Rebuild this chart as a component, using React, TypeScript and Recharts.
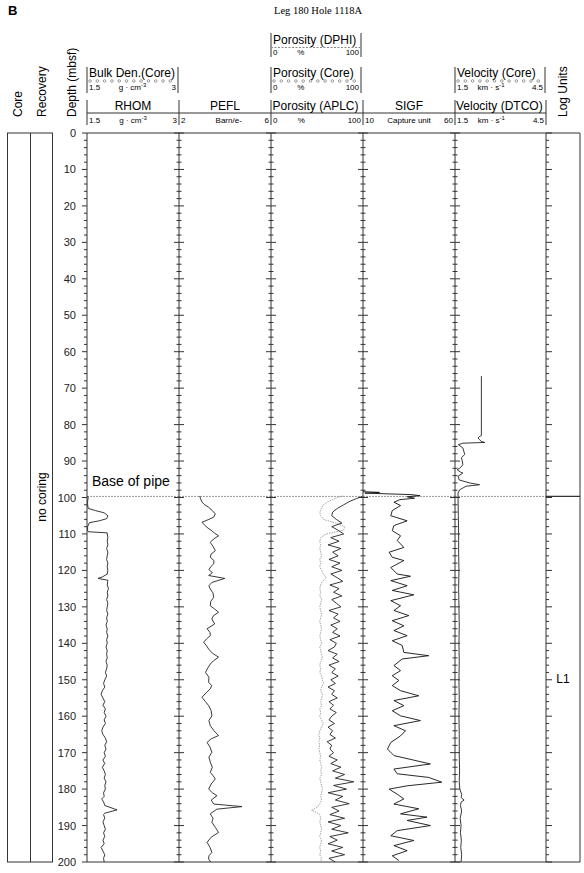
import React from "react";
import { ScatterChart, Scatter, XAxis, YAxis, ReferenceLine, ReferenceArea } from "recharts";

const PAGE_W = 584;
const PAGE_H = 873;
const PLOT_TOP = 133;
const PLOT_BOTTOM = 862;

// depth axis
const depthLabels = [0, 10, 20, 30, 40, 50, 60, 70, 80, 90, 100, 110, 120, 130, 140, 150, 160, 170, 180, 190, 200];
const depthTicks = depthLabels.flatMap((d) => (d < 200 ? [d, d + 2, d + 4, d + 6, d + 8] : [d]));
const basePipeDepth = 99.7;

// [depth (mbsf), value]
const rhom: [number, number][] = [
  [99.6, 1.51], [100, 1.52], [101, 1.51], [102, 1.51], [103, 1.52], [103.6, 1.64], [104.2, 1.78], [105, 1.84],
  [105.8, 1.82], [106.4, 1.7], [106.9, 1.54], [108, 1.51], [109, 1.51], [109.4, 1.52], [109.7, 1.83], [110, 1.83],
  [111, 1.84], [112, 1.83], [113, 1.84], [114, 1.82], [115, 1.84], [116, 1.83], [117, 1.82], [118, 1.84],
  [119, 1.83], [120, 1.84], [121, 1.83], [121.8, 1.75], [122.2, 1.68], [122.7, 1.84], [124, 1.83], [125, 1.85],
  [126, 1.83], [127, 1.84], [128, 1.82], [129, 1.84], [130, 1.83], [131, 1.82], [132, 1.84], [133, 1.82],
  [134, 1.83], [135, 1.81], [136, 1.83], [137, 1.82], [138, 1.84], [139, 1.82], [140, 1.83], [141, 1.81],
  [142, 1.83], [143, 1.82], [144, 1.83], [145, 1.81], [146, 1.83], [147, 1.82], [148, 1.8], [149, 1.82],
  [150, 1.79], [151, 1.77], [152, 1.79], [153, 1.75], [154, 1.73], [155, 1.76], [156, 1.79], [157, 1.76],
  [158, 1.8], [159, 1.78], [160, 1.81], [161, 1.78], [162, 1.8], [163, 1.76], [164, 1.74], [165, 1.76],
  [166, 1.8], [167, 1.82], [168, 1.79], [169, 1.81], [170, 1.78], [171, 1.8], [172, 1.76], [173, 1.79],
  [174, 1.75], [175, 1.78], [176, 1.8], [177, 1.78], [178, 1.81], [179, 1.79], [180, 1.8], [181, 1.77],
  [182, 1.78], [182.7, 1.74], [183.5, 1.77], [184.5, 1.79], [185.7, 1.99], [186.6, 1.79], [187, 1.77], [188, 1.79],
  [189, 1.76], [190, 1.78], [191, 1.8], [192, 1.77], [193, 1.79], [194, 1.76], [195, 1.78], [196, 1.73],
  [197, 1.76], [198, 1.79], [199, 1.77], [200, 1.78],
];

const pefl: [number, number][] = [
  [99.6, 2.9], [100.2, 2.93], [101.3, 3.0], [102.0, 3.12], [102.7, 3.29], [103.6, 3.45], [104.5, 3.58], [105.4, 3.51],
  [106.0, 3.3], [106.8, 3.0], [107.5, 3.1], [108.2, 3.22], [109.0, 3.4], [109.8, 3.55], [110.5, 3.72], [111.4, 3.5],
  [112.3, 3.36], [113.4, 3.48], [114.6, 3.58], [115.5, 3.4], [116.4, 3.36], [117.3, 3.52], [118.2, 3.51], [119.0, 3.38],
  [119.8, 3.3], [120.6, 3.45], [121.4, 3.29], [122.2, 3.99], [123.3, 3.43], [124.2, 3.3], [125.1, 3.36], [126.2, 3.48],
  [127.4, 3.51], [128.5, 3.38], [129.7, 3.36], [130.6, 3.55], [131.5, 3.72], [132.4, 3.5], [133.3, 3.43], [134.7, 3.55],
  [136.0, 3.22], [137.0, 3.35], [137.9, 3.36], [138.8, 3.2], [139.7, 3.07], [140.7, 3.2], [141.6, 3.29], [142.7, 3.45],
  [143.8, 3.72], [144.8, 3.5], [145.7, 3.36], [146.8, 3.25], [148.0, 3.15], [149.3, 3.3], [150.7, 3.29], [151.6, 3.42],
  [152.5, 3.36], [153.6, 3.18], [154.8, 3.0], [156.0, 3.15], [157.1, 3.29], [158.5, 3.4], [159.9, 3.43], [161.2, 3.3],
  [162.6, 3.36], [164.0, 3.52], [165.3, 3.72], [166.2, 3.4], [167.2, 3.22], [168.5, 3.35], [169.9, 3.43], [171.2, 3.3],
  [172.6, 3.36], [174.0, 3.45], [175.4, 3.36], [176.3, 3.48], [177.2, 3.58], [178.6, 3.4], [180.0, 3.29], [181.0, 3.45],
  [181.8, 3.65], [183.0, 3.4], [184.1, 3.51], [184.8, 4.74], [185.5, 3.65], [186.8, 3.36], [188.0, 3.48], [189.1, 3.43],
  [190.5, 3.58], [191.9, 3.72], [193.2, 3.4], [194.6, 3.22], [196.0, 3.35], [197.4, 3.43], [198.3, 3.3], [199.2, 3.29],
  [200, 3.38],
];

const aplc: [number, number][] = [
  [99.7, 99], [100.3, 93], [101, 86], [102, 79], [103, 72], [104, 67], [105, 66], [106, 71], [107, 77], [108, 66],
  [109, 73], [110, 79], [111, 65], [112, 74], [113, 62], [114, 76], [115, 67], [116, 73], [117, 63], [118, 75],
  [119, 66], [120, 77], [121, 65], [122, 72], [123, 78], [124, 64], [125, 74], [126, 68], [127, 77], [128, 66],
  [129, 71], [130, 76], [131, 63], [132, 73], [133, 68], [134, 75], [135, 65], [136, 72], [137, 67], [138, 75],
  [139, 64], [140, 71], [141, 69], [142, 62], [143, 72], [144, 67], [145, 74], [146, 63], [147, 70], [148, 66],
  [149, 73], [150, 65], [151, 70], [152, 62], [153, 69], [154, 66], [155, 72], [156, 63], [157, 68], [158, 64],
  [159, 71], [160, 66], [161, 63], [162, 69], [163, 62], [164, 67], [165, 64], [166, 70], [167, 61], [168, 66],
  [169, 64], [170, 68], [171, 63], [172, 72], [173, 65], [174, 76], [175, 67], [176, 80], [177, 70], [178, 90],
  [179, 68], [180, 82], [181, 62], [182, 78], [183, 70], [184, 85], [185, 66], [186, 74], [187, 64], [188, 80],
  [189, 62], [190, 76], [191, 66], [192, 84], [193, 64], [194, 72], [195, 62], [196, 78], [197, 66], [198, 80],
  [199, 63], [200, 70],
];

const dphi: [number, number][] = [
  [99.6, 78], [100, 72], [101, 63], [102, 57], [103, 55], [104, 53], [105, 54], [106, 57], [107, 70], [108, 80],
  [109, 79], [110, 60], [111, 54], [112, 53], [113, 54], [114, 53], [115, 54], [116, 55], [117, 53], [118, 54],
  [119, 53], [120, 55], [121, 57], [122, 60], [123, 56], [124, 54], [125, 53], [126, 54], [127, 53], [128, 55],
  [129, 54], [130, 53], [131, 54], [132, 55], [133, 54], [134, 53], [135, 54], [136, 55], [137, 54], [138, 53],
  [139, 54], [140, 55], [141, 53], [142, 54], [143, 55], [144, 56], [145, 54], [146, 53], [147, 54], [148, 53],
  [149, 55], [150, 56], [151, 57], [152, 55], [153, 54], [154, 56], [155, 55], [156, 54], [157, 55], [158, 53],
  [159, 54], [160, 53], [161, 55], [162, 57], [163, 55], [164, 53], [165, 52], [166, 53], [167, 52], [168, 53],
  [169, 52], [170, 53], [171, 54], [172, 53], [173, 54], [174, 55], [175, 54], [176, 55], [177, 53], [178, 54],
  [179, 55], [180, 56], [181, 55], [182, 54], [183, 55], [184, 53], [185, 50], [185.8, 44], [186.5, 50], [187, 53],
  [188, 54], [189, 53], [190, 54], [191, 55], [192, 54], [193, 53], [194, 55], [195, 54], [196, 53], [197, 54],
  [198, 53], [199, 55], [200, 54],
];

const sigf: [number, number][] = [
  [98.4, 10], [98.6, 19], [98.8, 11], [99.2, 36], [99.5, 41], [99.8, 34], [100.2, 38], [100.6, 30],
  [101.3, 26.8], [102.2, 30.4], [103.6, 25.9], [105.0, 25.1], [106.4, 34.0], [107.7, 26.8], [109.1, 25.9], [110.5, 30.4],
  [111.8, 28.6], [113.7, 32.2], [115.0, 24.2], [116.4, 25.9], [117.3, 32.2], [119.2, 25.1], [121.0, 28.6], [121.6, 35.8],
  [122.8, 25.1], [124.2, 34.0], [125.5, 25.9], [126.7, 37.6], [128.3, 25.1], [129.7, 30.4], [131.0, 26.8], [132.4, 34.9],
  [133.8, 25.9], [135.2, 32.2], [136.5, 26.8], [137.9, 34.0], [139.3, 25.9], [140.6, 31.3], [142.5, 32.2], [143.4, 45.7],
  [144.3, 31.3], [146.1, 26.8], [147.5, 30.4], [148.9, 25.9], [150.2, 29.5], [151.6, 25.9], [153.0, 30.4], [154.4, 40.3],
  [155.7, 26.8], [157.1, 32.2], [158.5, 25.9], [159.9, 30.4], [161.2, 41.2], [162.6, 26.8], [164.0, 33.1], [165.4, 30.4],
  [167.2, 25.1], [169.0, 23.3], [170.8, 26.8], [173.1, 46.6], [174.5, 26.8], [175.8, 28.6], [176.8, 45.7], [178.1, 52.8],
  [179.1, 34.0], [180.0, 24.2], [181.4, 28.6], [182.7, 32.2], [184.1, 26.8], [185.4, 40.3], [186.8, 30.4], [187.7, 44.8],
  [188.6, 34.0], [190.0, 46.6], [191.4, 28.6], [192.8, 25.1], [194.1, 37.6], [195.5, 26.8], [196.9, 34.0], [198.3, 25.9],
  [199.6, 29.5],
];

const dtco: [number, number][] = [
  [66.7, 2.37], [83.0, 2.37], [83.3, 2.3], [83.7, 2.26], [84.1, 2.31], [84.6, 2.36], [84.9, 2.48], [85.1, 1.76],
  [85.5, 1.61], [86.4, 1.76], [87.3, 1.79], [88.2, 1.82], [89.1, 1.71], [90.0, 1.74], [91.0, 1.76], [91.8, 1.68],
  [92.4, 1.57], [93.0, 1.68], [93.3, 1.76], [94.2, 1.6], [95.2, 1.64], [96.0, 1.98], [96.5, 2.31], [96.9, 1.87],
  [97.9, 1.65], [98.8, 1.6], [100, 1.6], [105, 1.61], [110, 1.62], [115, 1.62], [120, 1.63], [125, 1.62],
  [130, 1.63], [135, 1.64], [140, 1.63], [145, 1.64], [150, 1.63], [155, 1.64], [160, 1.63], [165, 1.64],
  [170, 1.64], [175, 1.65], [178, 1.64], [180, 1.66], [181.5, 1.72], [182.3, 1.7], [183.0, 1.8], [183.6, 1.7],
  [184.5, 1.68], [186, 1.72], [188, 1.67], [190, 1.7], [192, 1.68], [194, 1.71], [196, 1.69], [198, 1.72],
  [200, 1.7],
];

// track boundaries (px)
const X = { rhom: 87, pefl: 179, poro: 271, sigf: 363, vel: 455, log: 546, end: 580 };

type Mode = "depth" | "cross" | "right";
type Curve = { data: [number, number][]; stroke: string; dash?: string; width?: number };

const makeTick = (mode: Mode) => (props: any) => {
  const { x, y, payload } = props;
  const major = payload.value % 10 === 0;
  let l = 0;
  let r = 0;
  if (mode === "depth") l = major ? 5 : 3;
  if (mode === "cross") l = r = major ? 5 : 2.5;
  if (mode === "right") r = major ? 6 : 3;
  return (
    <g>
      <line x1={x - l} x2={x + r} y1={y} y2={y} stroke="#333" strokeWidth={1} />
      {mode === "depth" && major && (
        <text x={x - 11} y={y} dy={4} textAnchor="end" fontSize={11} fill="#222">
          {payload.value}
        </text>
      )}
    </g>
  );
};

const baseLabel = (props: any) => {
  const { viewBox } = props;
  return (
    <text x={viewBox.x + 5} y={viewBox.y - 10} fontSize={14} fill="#000">
      Base of pipe
    </text>
  );
};

function Track(props: {
  left: number;
  right: number;
  domain: [number, number];
  curves: Curve[];
  mode: Mode;
  padL?: number;
  children?: React.ReactNode;
  pipeStyle?: "dash" | "solid";
}) {
  const { left, right, domain, curves, mode, padL = 8, children, pipeStyle = "dash" } = props;
  const padR = 8;
  return (
    <div style={{ position: "absolute", left: left - padL, top: 0 }}>
      <ScatterChart
        width={right - left + padL + padR}
        height={PAGE_H}
        margin={{ top: PLOT_TOP, bottom: PAGE_H - PLOT_BOTTOM, left: padL - 1, right: padR }}
      >
        <XAxis type="number" dataKey="v" domain={domain} hide allowDataOverflow />
        <YAxis
          type="number"
          dataKey="d"
          domain={[0, 200]}
          reversed
          ticks={depthTicks}
          interval={0}
          width={1}
          tickLine={false}
          tickSize={0}
          tickMargin={0}
          axisLine={{ stroke: "#333" }}
          tick={makeTick(mode)}
          allowDataOverflow
        />
        <ReferenceLine y={0} stroke="#333" />
        <ReferenceLine y={200} stroke="#333" />
        {pipeStyle === "dash" ? (
          <ReferenceLine y={basePipeDepth} stroke="#999" strokeDasharray="2 1" label={mode === "depth" ? baseLabel : undefined} />
        ) : (
          <ReferenceLine y={basePipeDepth} stroke="#333" strokeWidth={1.2} />
        )}
        {children}
        {curves.map((c, i) => (
          <Scatter
            key={i}
            data={c.data.map(([d, v]) => ({ d, v }))}
            line={{ stroke: c.stroke, strokeWidth: c.width ?? 0.9, strokeDasharray: c.dash }}
            shape={() => <g />}
            isAnimationActive={false}
          />
        ))}
      </ScatterChart>
    </div>
  );
}

// header rows
const ROWS = {
  r1: { top: 33, bottom: 57, text: 44, mark: 47.5, scale: 55 },
  r2: { top: 67, bottom: 93, text: 77, mark: 81, scale: 90 },
  r3: { top: 100, bottom: 125, text: 110, mark: 113, scale: 122.5 },
};

type Row = typeof ROWS.r1;

function ScaleRow(p: { x0: number; x1: number; row: Row; min: string; max: string; unit: string; sup?: string; at: number }) {
  const { x0, x1, row, min, max, unit, sup, at } = p;
  return (
    <g fontSize={8} fill="#000">
      <text x={x0 + 2} y={row.scale}>{min}</text>
      <text x={x0 + (x1 - x0) * at} y={row.scale} textAnchor="middle">
        {unit}
        {sup && (
          <tspan dy={-3} fontSize={6}>
            {sup}
          </tspan>
        )}
      </text>
      <text x={x1 - 2} y={row.scale} textAnchor="end">{max}</text>
    </g>
  );
}

function Circles({ x0, x1, y }: { x0: number; x1: number; y: number }) {
  const n = Math.floor((x1 - x0 - 4) / 7.3);
  return (
    <g>
      {Array.from({ length: n + 1 }, (_, i) => (
        <circle key={i} cx={x0 + 3 + i * 7.3} cy={y} r={1.3} fill="#fff" stroke="#777" strokeWidth={0.7} />
      ))}
    </g>
  );
}

function Header() {
  const r1 = ROWS.r1;
  const r2 = ROWS.r2;
  const r3 = ROWS.r3;
  const bounds = [X.rhom, X.pefl, X.poro, X.sigf, X.vel, X.log];
  return (
    <svg width={PAGE_W} height={PAGE_H} style={{ position: "absolute", left: 0, top: 0 }}>
      <text x={8} y={15} fontSize={13} fontWeight="bold">B</text>
      <text x={274} y={14} fontSize={10.5} fontFamily='"Liberation Serif", serif'>Leg 180 Hole 1118A</text>

      {/* rotated column titles */}
      <text transform="translate(22,117) rotate(-90)" fontSize={12}>Core</text>
      <text transform="translate(46,117) rotate(-90)" fontSize={12}>Recovery</text>
      <text transform="translate(76,117) rotate(-90)" fontSize={12}>Depth (mbsf)</text>
      <text transform="translate(567,117) rotate(-90)" fontSize={12}>Log Units</text>

      {/* row 1: DPHI */}
      <line x1={X.poro} x2={X.poro} y1={r1.top} y2={r1.bottom} stroke="#333" />
      <line x1={361} x2={361} y1={r1.top} y2={r1.bottom} stroke="#333" />
      <text x={X.poro + 2} y={r1.text} fontSize={12}>Porosity (DPHI)</text>
      <line x1={X.poro} x2={361} y1={r1.mark} y2={r1.mark} stroke="#888" strokeDasharray="2 1.5" />
      <ScaleRow x0={X.poro} x1={361} row={r1} min="0" max="100" unit="%" at={0.33} />

      {/* row 2: core data */}
      {[
        [X.rhom, X.pefl - 1, "Bulk Den.(Core)", "1.5", "3", "g · cm", "-3", 0.5],
        [X.poro, 361, "Porosity (Core)", "0", "100", "%", undefined, 0.33],
        [X.vel, X.log - 1, "Velocity (Core)", "1.5", "4.5", "km · s", "-1", 0.4],
      ].map(([x0, x1, name, min, max, unit, sup, at]: any) => (
        <g key={name}>
          <line x1={x0} x2={x0} y1={r2.top} y2={r2.bottom} stroke="#333" />
          <line x1={x1} x2={x1} y1={r2.top} y2={r2.bottom} stroke="#333" />
          <text x={x0 + 2} y={r2.text} fontSize={12}>{name}</text>
          <Circles x0={x0} x1={x1} y={r2.mark} />
          <ScaleRow x0={x0} x1={x1} row={r2} min={min} max={max} unit={unit} sup={sup} at={at} />
        </g>
      ))}

      {/* row 3: logs */}
      {bounds.map((b) => (
        <line key={b} x1={b} x2={b} y1={r3.top} y2={r3.bottom} stroke="#333" />
      ))}
      <line x1={X.rhom} x2={X.log} y1={r3.mark} y2={r3.mark} stroke="#333" />
      <text x={(X.rhom + X.pefl) / 2} y={r3.text} fontSize={12} textAnchor="middle">RHOM</text>
      <text x={(X.pefl + X.poro) / 2} y={r3.text} fontSize={12} textAnchor="middle">PEFL</text>
      <text x={X.poro + 1.5} y={r3.text} fontSize={12}>Porosity (APLC)</text>
      <text x={(X.sigf + X.vel) / 2} y={r3.text} fontSize={12} textAnchor="middle">SIGF</text>
      <text x={X.vel + 1} y={r3.text} fontSize={12}>Velocity (DTCO)</text>
      <ScaleRow x0={X.rhom} x1={X.pefl} row={r3} min="1.5" max="3" unit="g · cm" sup="-3" at={0.5} />
      <ScaleRow x0={X.pefl} x1={X.poro} row={r3} min="2" max="6" unit="Barn/e-" at={0.54} />
      <ScaleRow x0={X.poro} x1={X.sigf} row={r3} min="0" max="100" unit="%" at={0.33} />
      <ScaleRow x0={X.sigf} x1={X.vel} row={r3} min="10" max="60" unit="Capture unit" at={0.5} />
      <ScaleRow x0={X.vel} x1={X.log} row={r3} min="1.5" max="4.5" unit="km · s" sup="-1" at={0.4} />

      {/* core / recovery columns */}
      <rect x={7.5} y={PLOT_TOP} width={45} height={PLOT_BOTTOM - PLOT_TOP} fill="none" stroke="#333" />
      <line x1={30.5} x2={30.5} y1={PLOT_TOP} y2={PLOT_BOTTOM} stroke="#333" />
      <text transform="translate(46,497) rotate(-90)" fontSize={12} textAnchor="middle">no coring</text>
    </svg>
  );
}

export default function App() {
  return (
    <div
      style={{
        position: "absolute",
        left: 0,
        top: 0,
        width: PAGE_W,
        height: PAGE_H,
        background: "#fff",
        fontFamily: '"Liberation Sans", Arial, sans-serif',
      }}
    >
      <Header />
      <Track left={X.rhom} right={X.pefl} domain={[1.5, 3]} mode="depth" padL={45} curves={[{ data: rhom, stroke: "#222" }]} />
      <Track left={X.pefl} right={X.poro} domain={[2, 6]} mode="cross" curves={[{ data: pefl, stroke: "#222" }]} />
      <Track
        left={X.poro}
        right={X.sigf}
        domain={[0, 100]}
        mode="cross"
        curves={[
          { data: dphi, stroke: "#999", dash: "1.5 1" },
          { data: aplc, stroke: "#222" },
        ]}
      />
      <Track left={X.sigf} right={X.vel} domain={[10, 60]} mode="cross" curves={[{ data: sigf, stroke: "#111" }]} />
      <Track left={X.vel} right={X.log} domain={[1.5, 4.5]} mode="cross" curves={[{ data: dtco, stroke: "#222" }]} />
      <Track left={X.log} right={X.end} domain={[0, 1]} mode="right" curves={[]} pipeStyle="solid">
        <ReferenceLine x={1} stroke="#333" />
        <ReferenceArea y1={basePipeDepth} y2={200} fill="none" stroke="none" label={{ value: "L1", position: "center", fontSize: 12, fill: "#000" }} />
      </Track>
    </div>
  );
}
